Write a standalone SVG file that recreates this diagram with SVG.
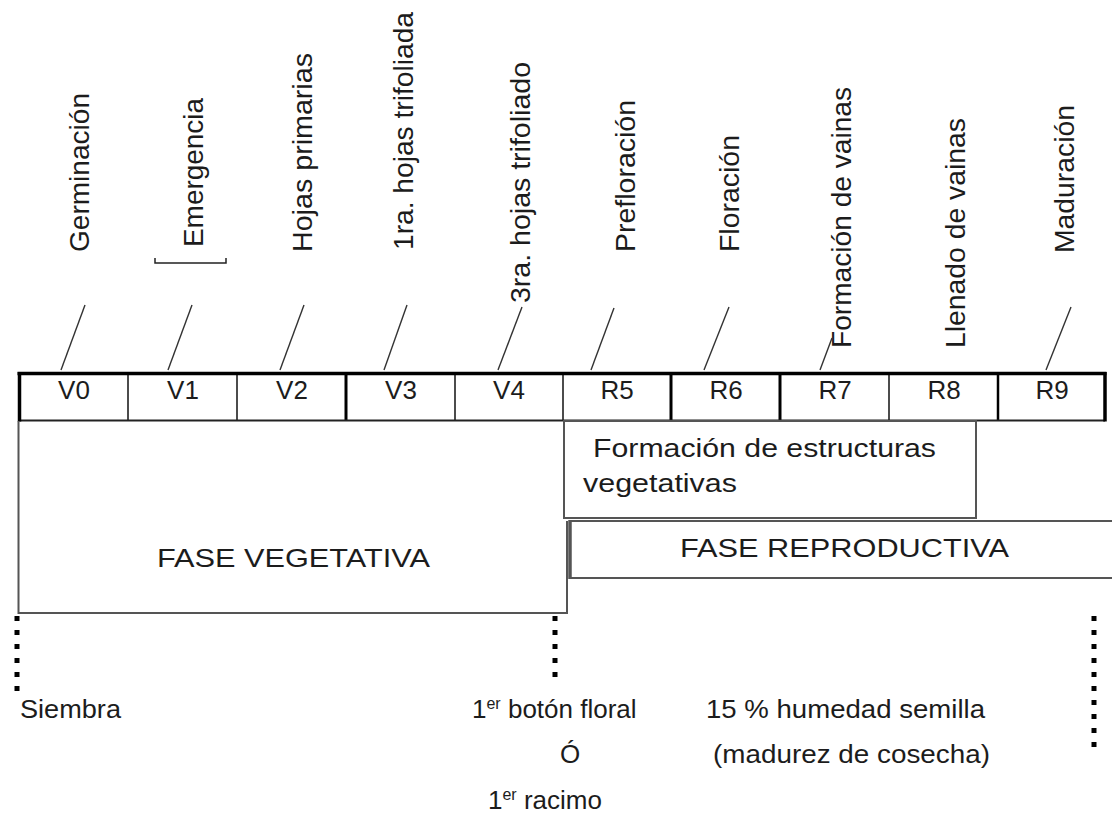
<svg xmlns="http://www.w3.org/2000/svg" width="1112" height="817" viewBox="0 0 1112 817">
<style>
text{font-family:"Liberation Sans",Arial,sans-serif;fill:#1c1c1c;}
.v{font-size:28px;}
.c{font-size:26px;text-anchor:middle;}
.t{font-size:26px;}
.box{fill:none;stroke:#555;stroke-width:2;}
.lead{stroke:#333;stroke-width:1.4;fill:none;}
.dot{stroke:#000;stroke-width:5;stroke-dasharray:5 9;fill:none;}
.thin{stroke:#111;stroke-width:1.5;}
.thick{stroke:#000;stroke-width:3;}
</style>
<rect width="1112" height="817" fill="#fff"/>

<g id="labels-top">
<text class="v" transform="translate(89,252) rotate(-90)" textLength="159" lengthAdjust="spacingAndGlyphs">Germinación</text>
<text class="v" transform="translate(203,247) rotate(-90)" textLength="149" lengthAdjust="spacingAndGlyphs">Emergencia</text>
<text class="v" transform="translate(312,252) rotate(-90)" textLength="199" lengthAdjust="spacingAndGlyphs">Hojas primarias</text>
<text class="v" transform="translate(413,250) rotate(-90)" textLength="238" lengthAdjust="spacingAndGlyphs">1ra. hojas trifoliada</text>
<text class="v" transform="translate(530,303) rotate(-90)" textLength="241" lengthAdjust="spacingAndGlyphs">3ra. hojas trifoliado</text>
<text class="v" transform="translate(635,252) rotate(-90)" textLength="152" lengthAdjust="spacingAndGlyphs">Prefloración</text>
<text class="v" transform="translate(739,252) rotate(-90)" textLength="117" lengthAdjust="spacingAndGlyphs">Floración</text>
<text class="v" transform="translate(851,348) rotate(-90)" textLength="261" lengthAdjust="spacingAndGlyphs">Formación de vainas</text>
<text class="v" transform="translate(965,348) rotate(-90)" textLength="230" lengthAdjust="spacingAndGlyphs">Llenado de vainas</text>
<text class="v" transform="translate(1074,253) rotate(-90)" textLength="148" lengthAdjust="spacingAndGlyphs">Maduración</text>
</g>

<g id="connectors">
<path class="lead" d="M85,305 L61,370"/>
<path class="lead" d="M192,305 L168,370"/>
<path class="lead" d="M304,305 L280,370"/>
<path class="lead" d="M407,305 L384,370"/>
<path class="lead" d="M522,307 L498,370"/>
<path class="lead" d="M614,308 L591,370"/>
<path class="lead" d="M729,307 L704,370"/>
<path class="lead" d="M832,338 L820,370"/>
<path class="lead" d="M1071,307 L1046,370"/>
<path d="M155,258 V263 H226 V258" fill="none" stroke="#222" stroke-width="1.5"/>
<path class="dot" d="M17,616 V698"/>
<path class="dot" d="M555,616 V685"/>
<path class="dot" d="M1094,616 V752"/>
</g>

<g id="stage-bar">
<rect x="19.5" y="373.5" width="1085" height="47" fill="#fff" stroke="none"/>
<line class="thin" x1="128" y1="373" x2="128" y2="421"/>
<line class="thin" x1="237" y1="373" x2="237" y2="421"/>
<line class="thick" x1="346" y1="373" x2="346" y2="421"/>
<line class="thin" x1="455" y1="373" x2="455" y2="421"/>
<line class="thin" x1="563" y1="373" x2="563" y2="421"/>
<line class="thick" x1="671" y1="373" x2="671" y2="421"/>
<line class="thick" x1="780" y1="373" x2="780" y2="421"/>
<line class="thin" x1="889" y1="373" x2="889" y2="421"/>
<line stroke="#000" stroke-width="2.5" x1="998" y1="373" x2="998" y2="421"/>
<line stroke="#222" stroke-width="1.8" x1="19" y1="420.5" x2="1105" y2="420.5"/>
<line stroke="#000" stroke-width="3.5" x1="17.5" y1="373.5" x2="1106.5" y2="373.5"/>
<line stroke="#000" stroke-width="3.5" x1="19.5" y1="372" x2="19.5" y2="421.5"/>
<line stroke="#000" stroke-width="3.5" x1="1105" y1="372" x2="1105" y2="421.5"/>
<text class="c" x="74" y="399">V0</text>
<text class="c" x="183" y="399">V1</text>
<text class="c" x="292" y="399">V2</text>
<text class="c" x="401" y="399">V3</text>
<text class="c" x="509" y="399">V4</text>
<text class="c" x="617" y="399">R5</text>
<text class="c" x="726" y="399">R6</text>
<text class="c" x="835" y="399">R7</text>
<text class="c" x="944" y="399">R8</text>
<text class="c" x="1052" y="399">R9</text>
</g>

<g id="fase-vegetativa">
<path class="box" d="M18.5,421 V613 H567 V521"/>
<text class="t" x="157" y="567" textLength="273" lengthAdjust="spacingAndGlyphs">FASE VEGETATIVA</text>
</g>

<g id="formacion-estructuras">
<rect class="box" x="564" y="421" width="412" height="97"/>
<text class="t" x="593" y="457" textLength="343" lengthAdjust="spacingAndGlyphs">Formación de estructuras</text>
<text class="t" x="583" y="492" textLength="154" lengthAdjust="spacingAndGlyphs">vegetativas</text>
</g>

<g id="fase-reproductiva">
<path class="box" d="M1112,521 H570 V578 H1112"/>
<line stroke="#555" stroke-width="3.5" x1="570" y1="520" x2="570" y2="579"/>
<text class="t" x="680" y="557" textLength="329" lengthAdjust="spacingAndGlyphs">FASE REPRODUCTIVA</text>
</g>

<g id="siembra">
<text class="t" x="20" y="718" textLength="101" lengthAdjust="spacingAndGlyphs">Siembra</text>
</g>

<g id="boton-floral">
<text class="t" x="472" y="718">1<tspan font-size="16" dy="-9">er</tspan><tspan dy="9"> botón floral</tspan></text>
<text class="t" x="560" y="763">Ó</text>
<text class="t" x="488" y="809">1<tspan font-size="16" dy="-9">er</tspan><tspan dy="9"> racimo</tspan></text>
</g>

<g id="madurez">
<text class="t" x="706" y="718" textLength="279" lengthAdjust="spacingAndGlyphs">15 % humedad semilla</text>
<text class="t" x="713" y="763" textLength="277" lengthAdjust="spacingAndGlyphs">(madurez de cosecha)</text>
</g>
</svg>
